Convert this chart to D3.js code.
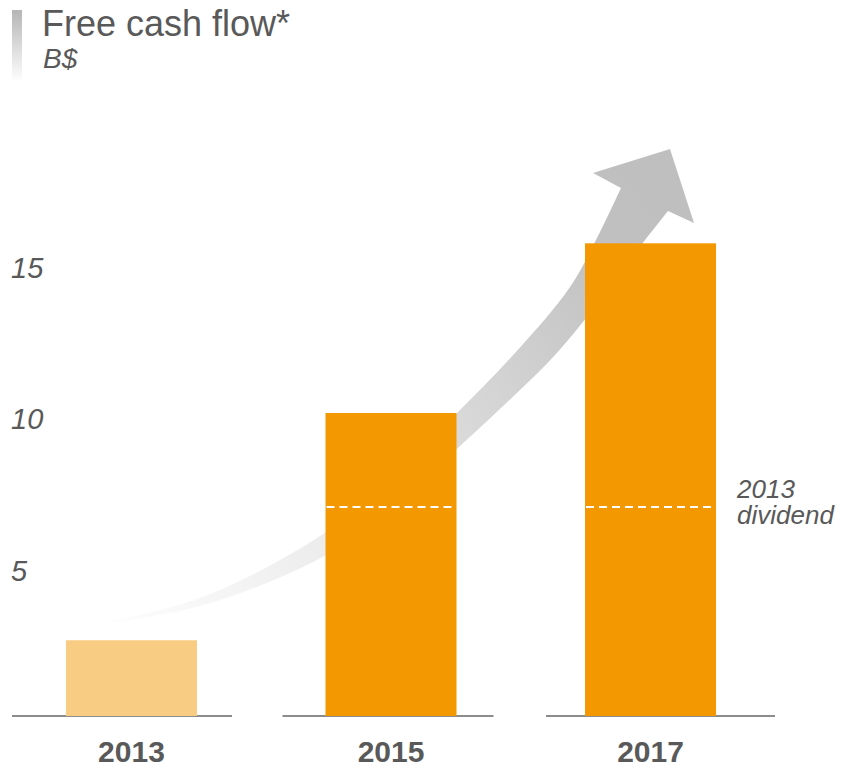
<!DOCTYPE html>
<html>
<head>
<meta charset="utf-8">
<script src="https://cdn.jsdelivr.net/npm/d3@7"></script>
<style>
  html, body { margin: 0; padding: 0; background: #fff; }
  svg { display: block; }
  text { font-family: "Liberation Sans", Arial, sans-serif; fill: #595959; }
</style>
</head>
<body>
<svg id="chart" width="849" height="769"></svg>
<script>
// Free cash flow, billions of dollars
const years = ["2013", "2015", "2017"];
const cashFlow = [2.5, 10.0, 15.6];
const dividend2013 = 6.9;
const yTicks = [5, 10, 15];
const title = "Free cash flow*";
const unit = "B$";
const dividendLabel = ["2013", "dividend"];

const W = 849, H = 769;
const baseY = 716;
const svg = d3.select("#chart");

const x = d3.scaleBand().domain(years).range([1.1, 780.9]).paddingInner(0.4952).paddingOuter(0.25);
const y = d3.scaleLinear().domain([0, 15]).range([baseY, baseY - 15 * 30.3]);

// Gradient for the growth arrow (fades out toward its tail)
const defs = svg.append("defs");
const g1 = defs.append("linearGradient").attr("id", "arrowGrad")
  .attr("gradientUnits", "userSpaceOnUse")
  .attr("x1", 90).attr("y1", 625).attr("x2", 650).attr("y2", 180);
[[0, "#ffffff"], [0.14, "#f7f7f7"], [0.33, "#ececec"], [0.67, "#d2d2d2"], [0.9, "#c0c0c0"], [1, "#bfbfbf"]]
  .forEach(([o, c]) => g1.append("stop").attr("offset", o).attr("stop-color", c));

const g2 = defs.append("linearGradient").attr("id", "tabGrad")
  .attr("x1", 0).attr("y1", 0).attr("x2", 0).attr("y2", 1);
g2.append("stop").attr("offset", 0).attr("stop-color", "#b5b5b5");
g2.append("stop").attr("offset", 1).attr("stop-color", "#ffffff");

// Title block
svg.append("rect").attr("x", 12).attr("y", 10).attr("width", 10).attr("height", 72).attr("fill", "url(#tabGrad)");
svg.append("text").attr("x", 42).attr("y", 36).attr("font-size", 36).text(title);
svg.append("text").attr("x", 43).attr("y", 68).attr("font-size", 28).attr("font-style", "italic").text(unit);

// Curved growth arrow behind the bars
const upperEdge = [[85, 626], [200, 598], [326, 532], [400, 469], [455, 415], [515, 353], [570, 287], [600, 232], [621, 188]];
const lowerEdge = [[668, 211], [628, 262], [590, 313], [555, 355], [520, 390], [485, 423], [450, 455], [400, 499], [326, 555], [200, 606], [85, 626]];
const edge = d3.line().curve(d3.curveCatmullRom.alpha(0.5));
const head = "L593,173L670,149L694,223L668,211";
const shaftPath = edge(upperEdge) + head + edge(lowerEdge).replace(/^M/, "L") + "Z";
svg.append("path").attr("d", shaftPath).attr("fill", "url(#arrowGrad)");

// Baseline segments under each bar
const segOffsets = [[-54, 35], [-43, 37], [-39, 59]];
svg.append("g").selectAll("line").data(years).join("line")
  .attr("x1", (d, i) => x(d) + segOffsets[i][0])
  .attr("x2", (d, i) => x(d) + x.bandwidth() + segOffsets[i][1])
  .attr("y1", baseY).attr("y2", baseY)
  .attr("stroke", "#8c8c8c").attr("stroke-width", 2);

// Bars
svg.append("g").selectAll("rect").data(years).join("rect")
  .attr("x", d => x(d))
  .attr("width", x.bandwidth())
  .attr("y", (d, i) => y(cashFlow[i]))
  .attr("height", (d, i) => y(0) - y(cashFlow[i]))
  .attr("fill", (d, i) => i === 0 ? "#f8cc82" : "#f39800");

// 2013 dividend reference line across the later bars
svg.append("g").selectAll("line").data(years.slice(1)).join("line")
  .attr("x1", d => x(d) + 1).attr("x2", d => x(d) + x.bandwidth())
  .attr("y1", y(dividend2013)).attr("y2", y(dividend2013))
  .attr("stroke", "#fff").attr("stroke-width", 2).attr("stroke-dasharray", "8,5");

svg.append("g").selectAll("text").data(dividendLabel).join("text")
  .attr("x", 737).attr("y", (d, i) => 498 + i * 26)
  .attr("font-size", 26).attr("font-style", "italic").text(d => d);

// Value axis labels
svg.append("g").selectAll("text").data(yTicks).join("text")
  .attr("x", 11).attr("y", d => y(d) + 6).attr("dy", "0.35em")
  .attr("font-size", 29).attr("font-style", "italic").text(d => d);

// Category labels
svg.append("g").selectAll("text").data(years).join("text")
  .attr("x", d => x(d) + x.bandwidth() / 2).attr("y", 762)
  .attr("text-anchor", "middle").attr("font-size", 30).attr("font-weight", "bold").text(d => d);
</script>
</body>
</html>
